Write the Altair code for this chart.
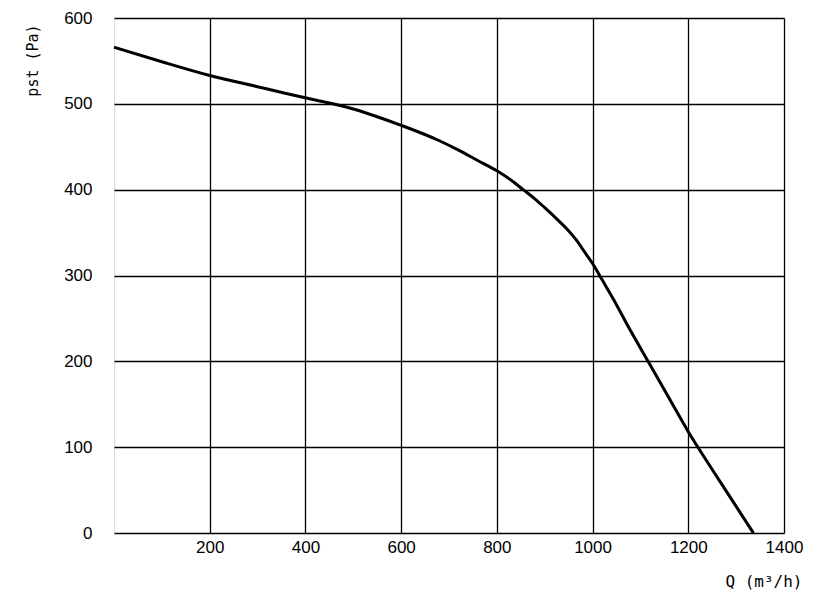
import altair as alt
import pandas as pd

q = [0, 100, 200, 300, 400, 450, 500, 550, 600, 680, 720, 760, 800, 830, 855, 880, 900,
     925, 945, 965, 985, 1000, 1020, 1043, 1078, 1118, 1160, 1200, 1250, 1300, 1336]
pst = [566, 549, 533, 520, 507, 501, 494, 485, 475, 457, 446, 434, 422, 411, 400, 389, 379,
       366, 355, 342, 326, 314, 295, 273, 237, 198, 157, 118, 74, 31, 0]

x_ticks = [200, 400, 600, 800, 1000, 1200, 1400]
y_ticks = [0, 100, 200, 300, 400, 500, 600]

df = pd.DataFrame({"q": q, "pst": pst})

chart = alt.Chart(df).mark_line(color="black", strokeWidth=3, interpolate="monotone").encode(
    x=alt.X("q:Q", scale=alt.Scale(domain=[0, 1400], nice=False),
            axis=alt.Axis(values=x_ticks, format="d", title="Q (m³/h)", grid=True, gridColor="black",
                          gridOpacity=1, gridWidth=1.3, ticks=False, tickSize=0, domain=False,
                          labelFont="Liberation Sans", labelFontSize=17, labelColor="black",
                          labelPadding=6, labelFlush=False,
                          titleFont="DejaVu Sans Mono", titleFontSize=16, titleFontWeight="normal",
                          titleColor="black", titleX=688, titleY=48, titleAlign="right",
                          titleBaseline="middle", titleAnchor=None)),
    y=alt.Y("pst:Q", scale=alt.Scale(domain=[0, 600], nice=False),
            axis=alt.Axis(values=y_ticks, format="d", title="pst (Pa)", grid=True, gridColor="black",
                          gridOpacity=1, gridWidth=1.3, ticks=False, tickSize=0, domain=False,
                          labelFont="Liberation Sans", labelFontSize=17, labelColor="black",
                          labelPadding=22, labelFlush=False,
                          titleFont="DejaVu Sans Mono", titleFontSize=15, titleFontWeight="normal",
                          titleColor="black", titleX=-82, titleY=42, titleAngle=270,
                          titleAlign="center", titleBaseline="middle")),
).properties(
    width=670, height=515,
    autosize=alt.AutoSizeParams(type="none"),
    padding={"left": 106, "top": 10, "right": 30, "bottom": 60},
).configure_view(stroke="black", strokeWidth=1.5).configure(background="white")

chart.save("out.html", embed_options={"renderer": "svg", "actions": False})
